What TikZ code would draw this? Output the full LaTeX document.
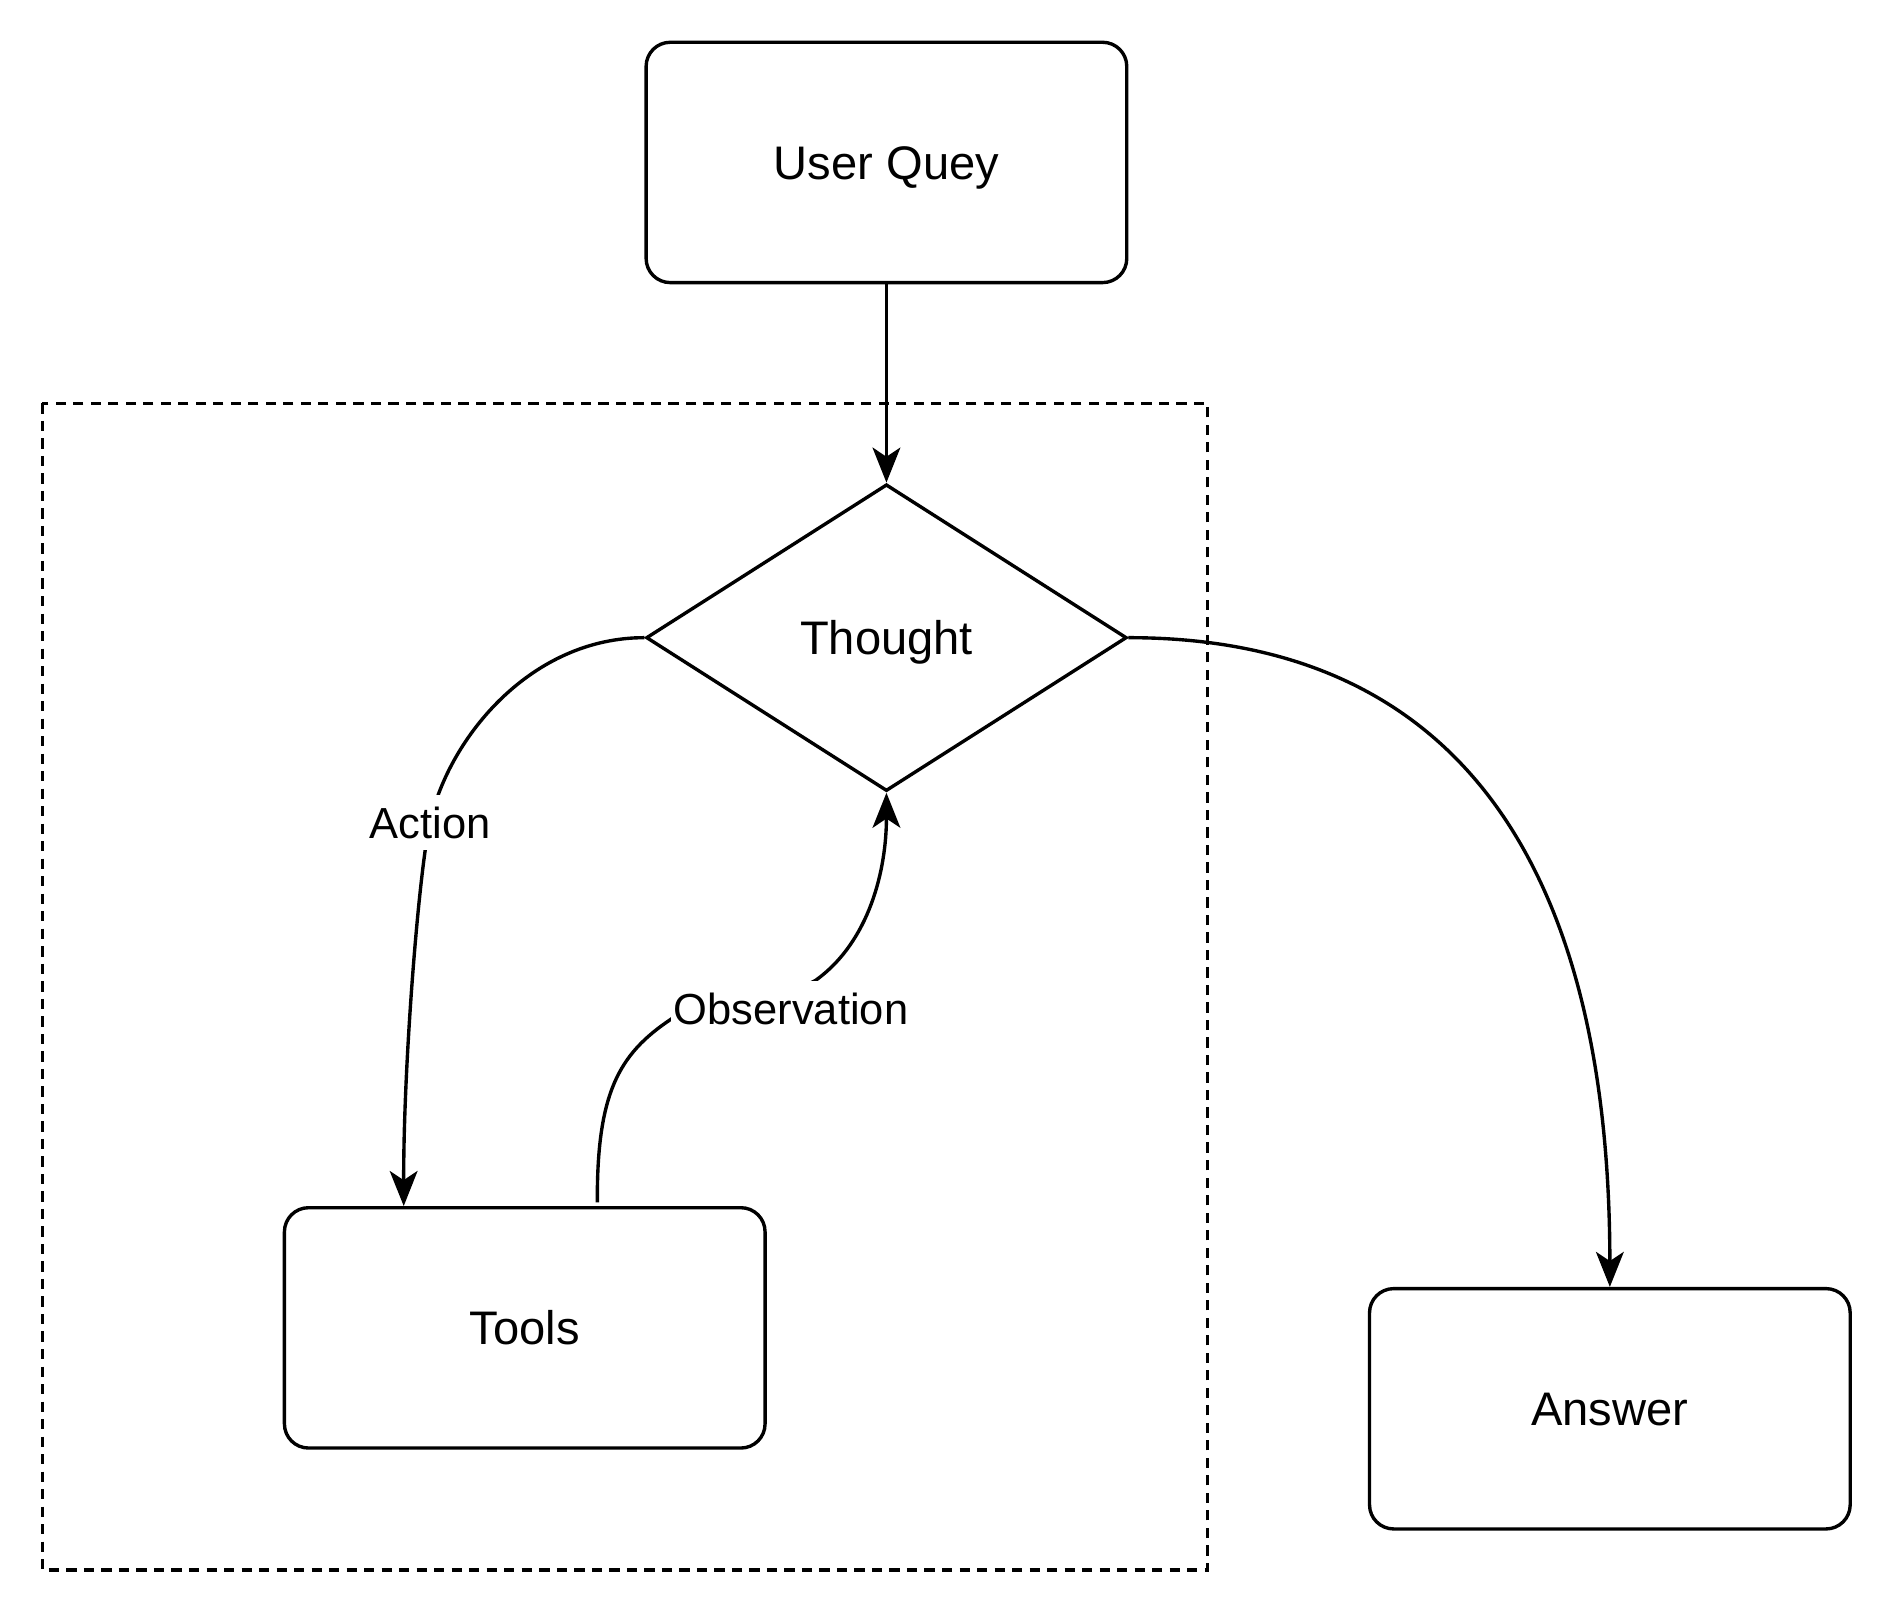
\documentclass[tikz,border=0pt]{standalone}
\usepackage{fontspec}
\setmainfont{Liberation Sans}
\usetikzlibrary{shapes.geometric,arrows.meta,calc}
\begin{document}
\begin{tikzpicture}[x=0.5pt,y=-0.5pt,
  box/.style={draw, line width=1.4pt, rounded corners=10pt, minimum width=199pt, minimum height=99.5pt, inner sep=0pt, font=\fontsize{19.5}{23}\selectfont, text height=14pt, text depth=0pt},
  decision/.style={draw, diamond, line width=1.4pt, aspect=1.567, minimum width=199pt, minimum height=127pt, inner sep=0pt, font=\fontsize{19.5}{23}\selectfont, text height=14pt, text depth=0pt},
  conn/.style={line width=1.4pt, -{Stealth[length=14.5pt,width=11.5pt,inset=3.8pt]}},
  lbl/.style={fill=white, inner xsep=1pt, inner ysep=0pt, minimum height=23pt, font=\fontsize{18}{21}\selectfont, text height=12.9pt, text depth=0pt},
  group/.style={draw, line width=1.4pt, dash pattern=on 4.25pt off 3pt}
]
\useasboundingbox (0,0) rectangle (1560,1328);
\draw[group] (35,334) rectangle (1000,1300);
\node[box] (query) at (734,134.5) {User Quey};
\node[decision] (thought) at (734,528) {Thought};
\node[box] (tools) at (434.5,1099.5) {Tools};
\node[box] (answer) at (1333,1166.5) {Answer};
\coordinate (actend) at ($(tools.north west)!0.25!(tools.north east)$);
\coordinate (obsstart) at ($(tools.north west)!0.65!(tools.north east)+(0,-3)$);
\draw[conn] (query.south) -- (thought.north);
\draw[conn] (thought.west) .. controls (440,528) and (372,610) .. (356,681)
   .. controls (347,721) and (334,880) .. (actend);
\node[lbl] (actlbl) at (356,681) {Action};
\draw[conn] (obsstart) .. controls (494,900) and (515,870) .. (560,841)
   .. controls (600,815) and (640,830) .. (675,812)
   .. controls (720,780) and (734,720) .. (thought.south);
\node[lbl] (obslbl) at (655,835) {Observation};
\draw[conn] (thought.east) .. controls (1250,528) and (1333,780) .. (answer.north);
\end{tikzpicture}
\end{document}
